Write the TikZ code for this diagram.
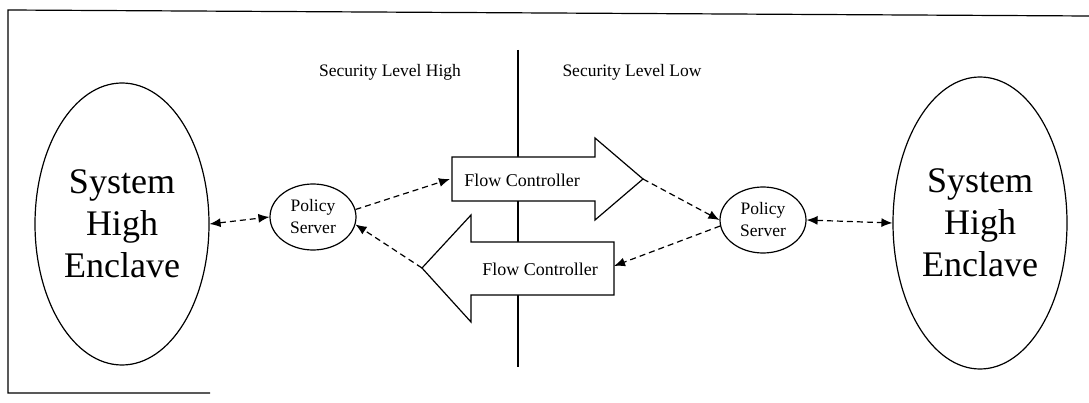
\documentclass[tikz,border=0pt]{standalone}
\usepackage{fontspec}
\setmainfont{Liberation Serif}
\usetikzlibrary{arrows.meta,shapes.geometric}
\begin{document}
\begin{tikzpicture}[x=1pt,y=-1pt,
  shapeline/.style={line width=1.2pt},
  enclave/.style={ellipse,draw,shapeline,minimum width=174pt,minimum height=282pt,inner sep=0pt,align=center,font=\fontsize{36}{42}\selectfont},
  policy/.style={ellipse,draw,shapeline,minimum width=86pt,minimum height=66pt,inner sep=0pt,align=center,font=\fontsize{17.5}{22}\selectfont},
  label/.style={font=\fontsize{17.5}{21}\selectfont,inner sep=0pt},
  fcarrow/.style={draw,fill=white,shapeline,line join=miter},
  link/.style={dash pattern=on 6pt off 4pt,line width=1.2pt},
  ltip/.tip={Latex[length=11pt,width=9pt]}
]
\useasboundingbox (0,0) rectangle (1089,403);
% frame
\draw[line width=1.2pt] (1089,16) -- (8,10) -- (8,393) -- (210,393);
% divider line
\coordinate (divtop) at (518,50);
\coordinate (divbot) at (518,367);
\draw[line width=1.2pt] (divtop) -- (divbot);
% labels
\node[label] (lh) at (390,72) {Security Level High};
\node[label] (ll) at (632,72) {Security Level Low};
% enclaves
\node[enclave] (encl) at (122,224) {System\\High\\Enclave};
\node[enclave,minimum height=292pt] (encr) at (980,223) {System\\High\\Enclave};
% policy servers
\node[policy] (psl) at (313,217) {Policy\\Server};
\node[policy] (psr) at (763,220) {Policy\\Server};
% flow controller arrows
\draw[fcarrow] (452,157) -- (595,157) -- (595,138) -- (643,179) -- (595,220) -- (595,201) -- (452,201) -- cycle;
\coordinate (fc1tail) at (452,179);
\coordinate (fc1tip) at (643,179);
\node[label,font=\fontsize{18}{22}\selectfont] (fc1) at (522,180) {Flow Controller};
\draw[fcarrow] (614,242) -- (471,242) -- (471,215) -- (422,268) -- (471,322) -- (471,295) -- (614,295) -- cycle;
\coordinate (fc2tail) at (614,266);
\coordinate (fc2tip) at (422,268);
\node[label,font=\fontsize{18}{22}\selectfont] (fc2) at (540,269) {Flow Controller};
% connectors
\draw[link,ltip-ltip] (encl.east) -- (psl.west);
\draw[link,-ltip] (psl.10) -- ([xshift=-2pt]fc1tail);
\draw[link,-ltip] (fc2tip) -- (psl.-10);
\draw[link,-ltip] (fc1tip) -- (psr.west);
\draw[link,-ltip] (psr.188) -- (fc2tail);
\draw[link,ltip-ltip] (psr.east) -- (encr.west);
\end{tikzpicture}
\end{document}
